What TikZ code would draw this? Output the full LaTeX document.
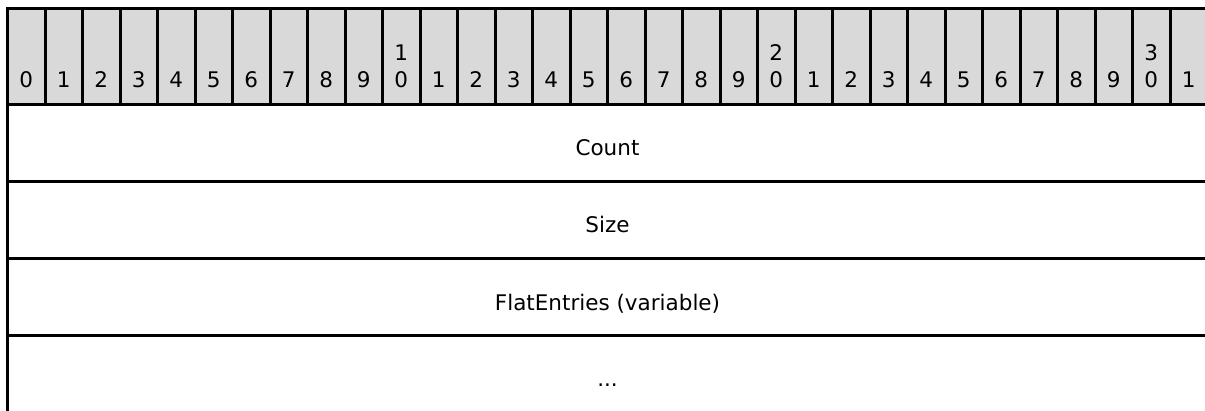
\documentclass[tikz,border=0pt]{standalone}
\usepackage{fontspec}
\setmainfont{DejaVu Sans}
\definecolor{hgray}{RGB}{217,217,217}
\begin{document}
\begin{tikzpicture}[x=1pt,y=-1pt,
  hcell/.style={draw=black, fill=hgray, line width=3pt, minimum width=37.5pt, minimum height=96pt, inner sep=0pt, outer sep=0pt},
  field/.style={draw=black, line width=3pt, minimum width=1200pt, minimum height=77.2pt, inner sep=0pt, outer sep=0pt},
  txt/.style={font=\fontsize{21.5}{27}\selectfont, inner sep=0pt, outer sep=0pt, anchor=base, text=black}]
\useasboundingbox (0,0) rectangle (1205,410);
\clip (0,0) rectangle (1205,410);
% fields
\node[field] (count) at (607.5,142.9) {};
\node[field] (size)  at (607.5,220.1) {};
\node[field] (flat)  at (607.5,297.3) {};
\node[field] (more)  at (607.5,374.5) {};
\node[txt] (tcount) at ([yshift=-12.8pt]count.center) {Count};
\node[txt] (tsize)  at ([yshift=-12.8pt]size.center) {Size};
\node[txt] (tflat)  at ([yshift=-12.8pt]flat.center) {FlatEntries (variable)};
\node[txt] (tmore)  at ([yshift=-12.3pt]more.center) {...};
% header bits
\foreach \k in {0,...,31} {
  \pgfmathtruncatemacro\d{mod(\k,10)}
  \pgfmathtruncatemacro\t{div(\k,10)}
  \node[hcell] (h\k) at (26.25+37.5*\k,56.3) {};
  \node[txt] (hd\k) at (26.25+37.5*\k,87) {\d};
  \ifnum\d=0 \ifnum\k>0
    \node[txt] (ht\k) at (26.25+37.5*\k,60) {\t};
  \fi\fi
}
\end{tikzpicture}
\end{document}
